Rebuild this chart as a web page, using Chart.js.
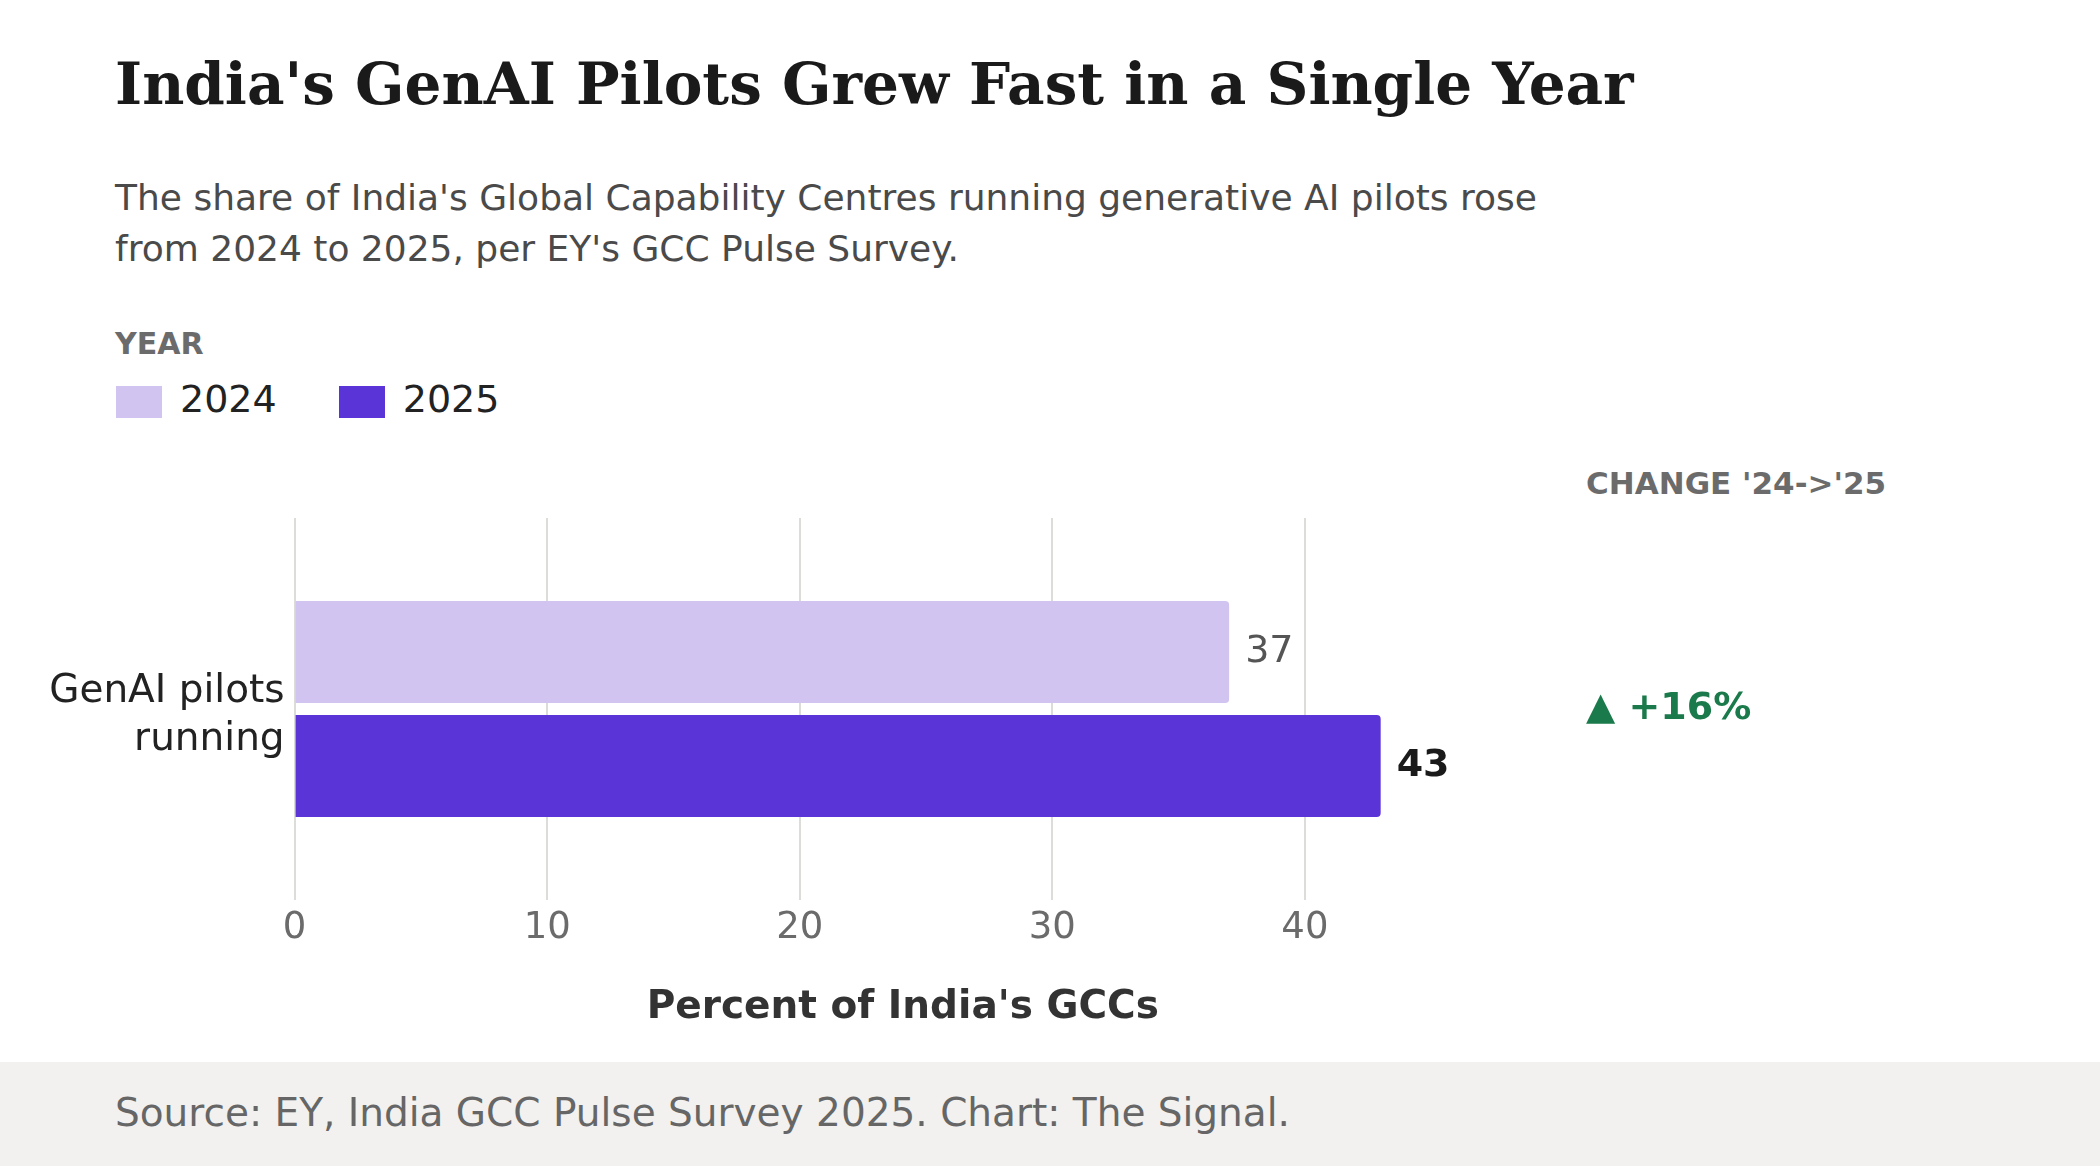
<!DOCTYPE html>
<html>
<head>
<meta charset="utf-8">
<script src="https://cdn.jsdelivr.net/npm/chart.js@4/dist/chart.umd.min.js"></script>
<style>
  body { margin: 0; width: 2100px; height: 1166px; background: #fff; position: relative; overflow: hidden; font-family: "DejaVu Sans", sans-serif; }
  .t { position: absolute; white-space: nowrap; }
  #title { left: 115px; top: 55px; font: bold 58px "DejaVu Serif", serif; line-height: 1; color: #1a1a1a; }
  #subtitle { left: 115px; top: 172px; font-size: 36px; line-height: 51px; color: #4a4a4a; }
  #legendTitle { left: 115px; top: 329px; font-size: 30px; font-weight: bold; line-height: 1; color: #6b6b6b; }
  #legend { left: 116px; top: 386px; height: 32px; display: flex; align-items: center; }
  .sw { width: 46px; height: 32px; margin-right: 18px; }
  .lab { font-size: 38px; color: #222; margin-right: 62px; line-height: 1; position: relative; top: -3px; }
  #changeTitle { left: 1586px; top: 468px; font-size: 31px; font-weight: bold; line-height: 1; color: #6b6b6b; }
  #footer { position: absolute; left: 0; top: 1062px; width: 2100px; height: 104px; background: #f2f1ef; }
  #source { left: 115px; top: 31px; font-size: 39px; line-height: 1; color: #666; }
  #chart { position: absolute; left: 0; top: 0; }
</style>
</head>
<body>
<div class="t" id="title">India's GenAI Pilots Grew Fast in a Single Year</div>
<div class="t" id="subtitle">The share of India's Global Capability Centres running generative AI pilots rose<br>from 2024 to 2025, per EY's GCC Pulse Survey.</div>
<div class="t" id="legendTitle">YEAR</div>
<div class="t" id="legend"></div>
<div class="t" id="changeTitle">CHANGE '24-&gt;'25</div>
<canvas id="chart" width="2100" height="1062"></canvas>
<div id="footer"><div class="t" id="source">Source: EY, India GCC Pulse Survey 2025. Chart: The Signal.</div></div>

<script>
const categories = [['GenAI pilots', 'running']];
const years = ['2024', '2025'];
const pilots2024 = [37];
const pilots2025 = [43];
const xTicks = [0, 10, 20, 30, 40];
const colors = ['#d1c4f1', '#5a34d6'];

Chart.defaults.font.family = '"DejaVu Sans", sans-serif';

// legend
const legend = document.getElementById('legend');
years.forEach((y, i) => {
    legend.innerHTML += '<div class="sw" style="background:' + colors[i] + '"></div><div class="lab">' + y + '</div>';
});

const valueLabels = {
    id: 'valueLabels',
    afterDatasetsDraw(chart) {
        const c = chart.ctx;
        chart.data.datasets.forEach((ds, i) => {
            chart.getDatasetMeta(i).data.forEach((bar, j) => {
                c.save();
                c.font = ds.labelFont;
                c.fillStyle = ds.labelColor;
                c.textAlign = 'left';
                c.textBaseline = 'middle';
                c.fillText(ds.data[j], bar.x + 16, bar.y);
                c.restore();
            });
        });
        // change annotation
        const pct = Math.round((pilots2025[0] - pilots2024[0]) / pilots2024[0] * 100);
        const y = chart.scales.y.getPixelForValue(0);
        c.save();
        c.font = 'bold 38px "DejaVu Sans"';
        c.fillStyle = '#1b7a4b';
        c.textBaseline = 'middle';
        c.fillText('\u25B2 +' + pct + '%', 1586, y);
        c.restore();
    }
};

const ctx = document.querySelector('#chart').getContext('2d');

const myChart = new Chart(ctx, {
    type: 'bar',
    plugins: [valueLabels],
    data: {
        labels: categories,
        datasets: [{
            label: years[0],
            data: pilots2024,
            backgroundColor: colors[0],
            labelFont: '38px "DejaVu Sans"',
            labelColor: '#555',
        }, {
            label: years[1],
            data: pilots2025,
            backgroundColor: colors[1],
            labelFont: 'bold 38px "DejaVu Sans"',
            labelColor: '#1a1a1a',
        }]
    },
    options: {
        indexAxis: 'y',
        responsive: false,
        animation: false,
        categoryPercentage: 0.597,
        barPercentage: 0.895,
        borderRadius: 4,
        layout: { padding: { left: 0, top: 518, right: 589, bottom: 30 } },
        plugins: { legend: { display: false }, tooltip: { enabled: false } },
        scales: {
            x: {
                min: 0,
                max: 48.16,
                afterBuildTicks: (s) => { s.ticks = xTicks.map(v => ({ value: v })); },
                grid: { color: '#dcdcd8', lineWidth: 2, drawTicks: false },
                border: { display: false },
                ticks: { color: '#6b6b6b', font: { size: 37 }, padding: 6 },
                title: {
                    display: true,
                    text: "Percent of India's GCCs",
                    color: '#333',
                    font: { size: 39, weight: 'bold' },
                    padding: { top: 0, bottom: 1 }
                },
                afterFit: (s) => { s.height = 132; }
            },
            y: {
                grid: { display: false },
                border: { display: false },
                ticks: { color: '#222', font: { size: 39, lineHeight: 1.22 }, padding: 2, labelOffset: 7 },
                afterFit: (s) => { s.width = 294.6; }
            }
        }
    }
});
</script>
</body>
</html>
